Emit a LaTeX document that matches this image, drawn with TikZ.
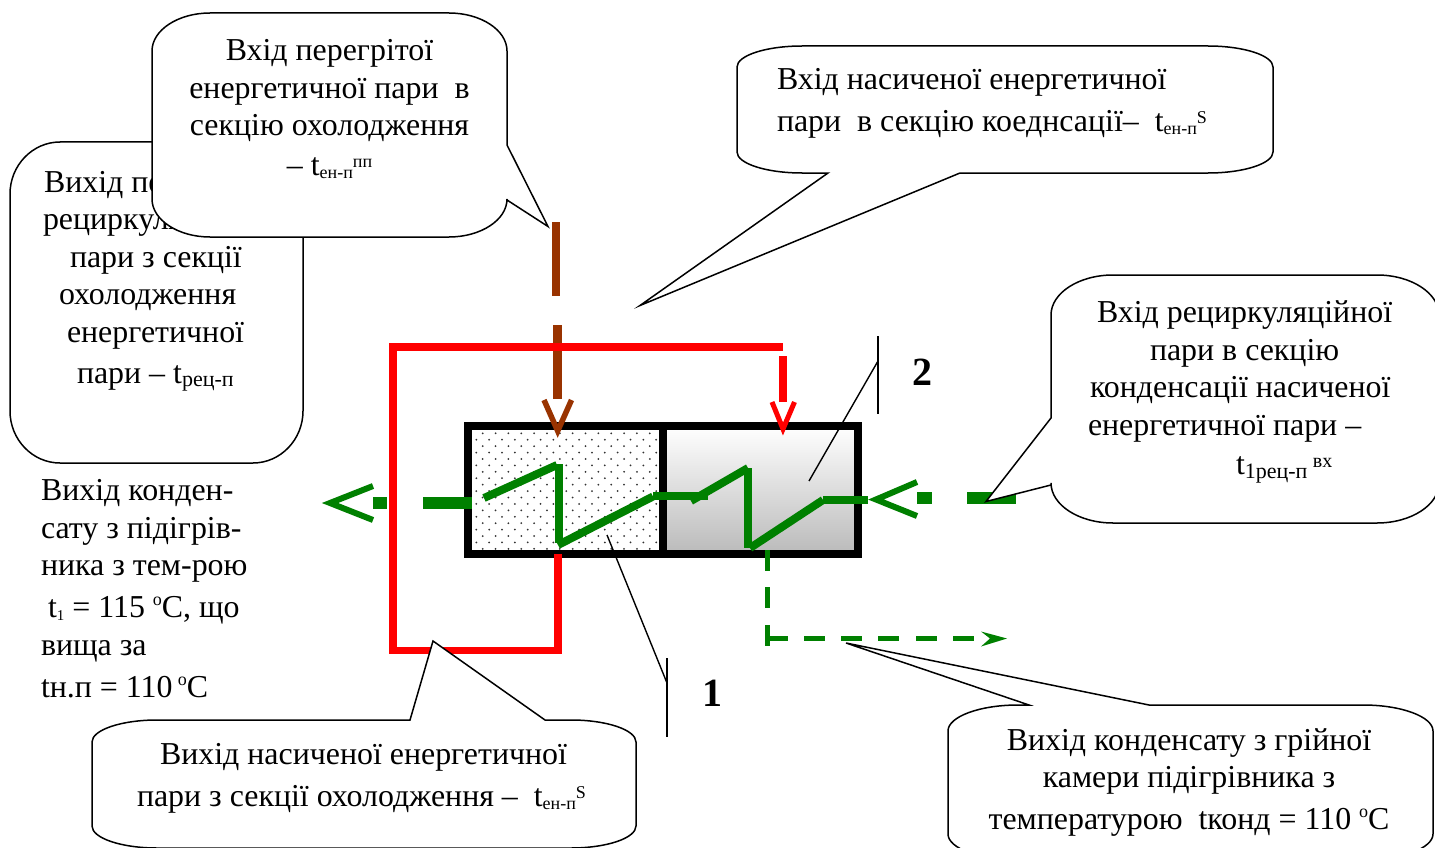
\documentclass[tikz,border=0pt]{standalone}
\usepackage{fontspec}
\setmainfont{Liberation Serif}
\definecolor{gr}{HTML}{008000}
\definecolor{br}{HTML}{993300}
\definecolor{rd}{HTML}{FF0000}
\newcommand{\lo}[2][18]{\raisebox{-0.1em}{\fontsize{#1}{#1}\selectfont #2}}
\newcommand{\hi}[2][18]{\raisebox{0.24em}{\fontsize{#1}{#1}\selectfont #2}}
\newcommand{\degr}{\raisebox{0.36em}{\fontsize{18}{18}\selectfont o}}
% \bubble{x1}{y1}{x2}{y2}{rx}{ry}{top tail}{right tail}{bottom tail}{left tail}
\newcommand{\bubble}[6]{\def\xa{#1}\def\ya{#2}\def\xb{#3}\def\yb{#4}\def\rx{#5}\def\ry{#6}\bubblerest}
\newcommand{\bubblerest}[4]{%
  \draw[bubbleline] ({\xa+\rx},\ya) #1 -- ({\xb-\rx},\ya)
    .. controls ({\xb-0.45*\rx},\ya) and (\xb,{\ya+0.45*\ry}) .. (\xb,{\ya+\ry})
    #2 -- (\xb,{\yb-\ry})
    .. controls (\xb,{\yb-0.45*\ry}) and ({\xb-0.45*\rx},\yb) .. ({\xb-\rx},\yb)
    #3 -- ({\xa+\rx},\yb)
    .. controls ({\xa+0.45*\rx},\yb) and (\xa,{\yb-0.45*\ry}) .. (\xa,{\yb-\ry})
    #4 -- (\xa,{\ya+\ry})
    .. controls (\xa,{\ya+0.45*\ry}) and ({\xa+0.45*\rx},\ya) .. ({\xa+\rx},\ya) -- cycle;}
\tikzset{
  bubbleline/.style={draw=black,fill=white,line width=1.5pt,line join=miter},
  txt/.style={inner sep=0pt,outer sep=0pt,font=\fontsize{31.9}{37.5}\selectfont},
  leader/.style={draw=black,line width=1.4pt},
  coil/.style={draw=gr,line width=8pt,line join=miter},
  pipegr/.style={draw=gr,line width=12pt},
  tipgr/.style={draw=gr,line width=6pt,line join=miter,miter limit=10},
  tipbr/.style={draw=br,line width=5.5pt,line join=miter,miter limit=10},
  tiprd/.style={draw=rd,line width=5pt,line join=miter,miter limit=10},
}
\begin{document}
\begin{tikzpicture}[x=1pt,y=-1pt]
\useasboundingbox (0,0) rectangle (1435,848);
\fill[white] (0,0) rectangle (1435,848);

% brown inlet
\draw[br,line width=8.5pt] (556,222) -- (556,296);
\draw[br,line width=8.5pt] (557.5,325) -- (557.5,399);

% heat exchanger body
\fill[white] (468,426) rectangle (663,554);
\begin{scope}
  \clip (472,430) rectangle (659,550);
  \foreach \r in {0,...,19}{
    \pgfmathsetmacro{\yy}{433.3+6.42*\r}
    \pgfmathsetmacro{\off}{mod(\r,2)*(-6.42)}
    \foreach \c in {0,...,15}{
      \fill[black!80] ({476.3+\off+12.85*\c+6.42},\yy) circle (1);
    }
  }
\end{scope}
\shade[top color=white,bottom color=black!27,shading angle=0] (663,426) rectangle (858,554);
\draw[black,line width=8pt,line join=miter] (468,426) rectangle (663,554);
\draw[black,line width=8pt,line join=miter] (663,426) rectangle (858,554);
\draw[tipbr] (544,400) -- (557.7,431) -- (571.5,400);

% red loop
\draw[rd,line width=7.5pt,line join=miter] (783,347) -- (393,347) -- (393,650.5) -- (558,650.5) -- (558,554);
\draw[rd,line width=8pt] (783,356) -- (783,402);
\draw[tiprd] (772,402) -- (783,429) -- (794.5,402);

% green coil
\draw[coil] (484,498) -- (557,465);
\draw[coil] (558.5,464) -- (558.5,543);
\draw[coil] (558,545) -- (653,496.5);
\draw[coil] (653,496) -- (708,496);
\draw[coil] (691,501) -- (748,468);
\draw[coil] (748,468) -- (748,548);
\draw[coil] (750,548) -- (823,500);
\draw[coil] (823,500) -- (868,500);

% green left outlet
\draw[pipegr] (423,503) -- (472,503);
\draw[pipegr] (373,503) -- (387,503);
\draw[tipgr] (373,486) -- (330,503) -- (373,520);

% green right inlet
\draw[pipegr] (967,498) -- (1016,498);
\draw[pipegr] (917,498) -- (932,498);
\draw[tipgr] (917,482) -- (876,499.5) -- (917,516);

% green dashed condensate outlet
\draw[gr,line width=5.5pt] (767.5,550) -- (767.5,571);
\draw[gr,line width=5.5pt] (767.5,587) -- (767.5,608);
\draw[gr,line width=5.5pt] (767.5,625) -- (767.5,646);
\draw[gr,line width=5.5pt] (767.5,638.5) -- (788,638.5);
\foreach \x in {804,841,878,916,953}{
  \draw[gr,line width=5.5pt] (\x,638.5) -- ({\x+21},638.5);
}
\fill[gr] (981,631.5) -- (1007,638.5) -- (981,646.5) -- (990,638.5) -- cycle;

% leaders and numbers
\coordinate (a1) at (607,535);
\coordinate (b1) at (667,683);
\draw[leader] (a1) -- (b1);
\draw[leader] (667,658) -- (667,737);
\node[txt,font=\fontsize{40}{40}\selectfont\bfseries] (n1) at (712,693) {1};
\coordinate (a2) at (809,481);
\coordinate (b2) at (878,361);
\draw[leader] (a2) -- (b2);
\draw[leader] (878,336) -- (878,414);
\node[txt,font=\fontsize{40}{40}\selectfont\bfseries] (n2) at (922,372) {2};

% callout tips
\coordinate (tipA) at (548,226.5);
\coordinate (tipB) at (640,305.5);
\coordinate (tipC) at (986,501.5);
\coordinate (tipD) at (433,641);
\coordinate (tipE) at (846,643);

% left callout
\bubble{10}{142}{303}{463}{50}{52}{}{}{}{}
\node[txt,anchor=north west,align=left] (t1) at (43,171) {\hspace*{1pt}Вихід пере\\рециркуляц\\\hspace*{27pt}пари з секції\\\hspace*{16pt}охолодження\\\hspace*{24pt}енергетичної\\[4pt]\hspace*{34pt}пари – t\lo[22]{рец-п}};

% top callout
\bubble{152}{13}{507}{237}{58}{38}{}{-- (507,145) -- (tipA) -- (507,200)}{}{}
\node[txt,anchor=north,align=center] (t2) at (329.5,39.5) {Вхід перегрітої\\енергетичної пари\ \ в\\секцію охолодження\\[2pt]– t\lo{ен-п}\hi{пп}};

% upper right callout
\bubble{737}{46}{1273}{173}{65}{21}{}{}{-- (960,173) -- (tipB) -- (828,173)}{}
\node[txt,anchor=north west,align=left] (t3) at (777,68.5) {Вхід насиченої енергетичної\\[4.5pt]пари\ \ в секцію коеднсації–\ \ t\lo{ен-п}\hi{S}};

% right callout
\bubble{1051}{275}{1439}{523}{62}{40}{}{}{}{-- (1051,485) -- (tipC) -- (1051,418)}
\node[txt,anchor=north west,align=left] (t4) at (1088,301) {\hspace*{9pt}Вхід рециркуляційної\\\hspace*{62pt}пари в секцію\\\hspace*{2pt}конденсації насиченої\\енергетичної пари –\\[2pt]\hspace*{148pt}t\lo[22]{1рец-п}\,\hi[20]{вх}};

% free text
\node[txt,anchor=north west,align=left] (t5) at (41,479.5) {Вихід конден-\\сату з підігрів-\\ника з тем-рою\\[4pt]\hspace*{7pt}t\lo[15]{1} = 115 \degr C, що\\[1pt]вища за\\[4pt]tн.п = 110\,\degr C};

% bottom left callout
\bubble{92}{720}{636}{848}{65}{22}{-- (410,720) -- (tipD) -- (545,720)}{}{}{}
\node[txt,anchor=north west,align=left] (t6) at (137,743.5) {\hspace*{23pt}Вихід насиченої енергетичної\\[4.5pt]пари з секції охолодження –\ \ t\lo{ен-п}\hi{S}};

% bottom right callout
\bubble{948}{705}{1433}{860}{70}{26}{-- (1029,705) -- (tipE) -- (1149,705)}{}{}{}
\node[txt,anchor=north,align=center] (t7) at (1189,728.5) {Вихід конденсату з грійної\\камери підігрівника з\\[4pt]температурою\ \ tконд = 110 \degr C};
\end{tikzpicture}
\end{document}
